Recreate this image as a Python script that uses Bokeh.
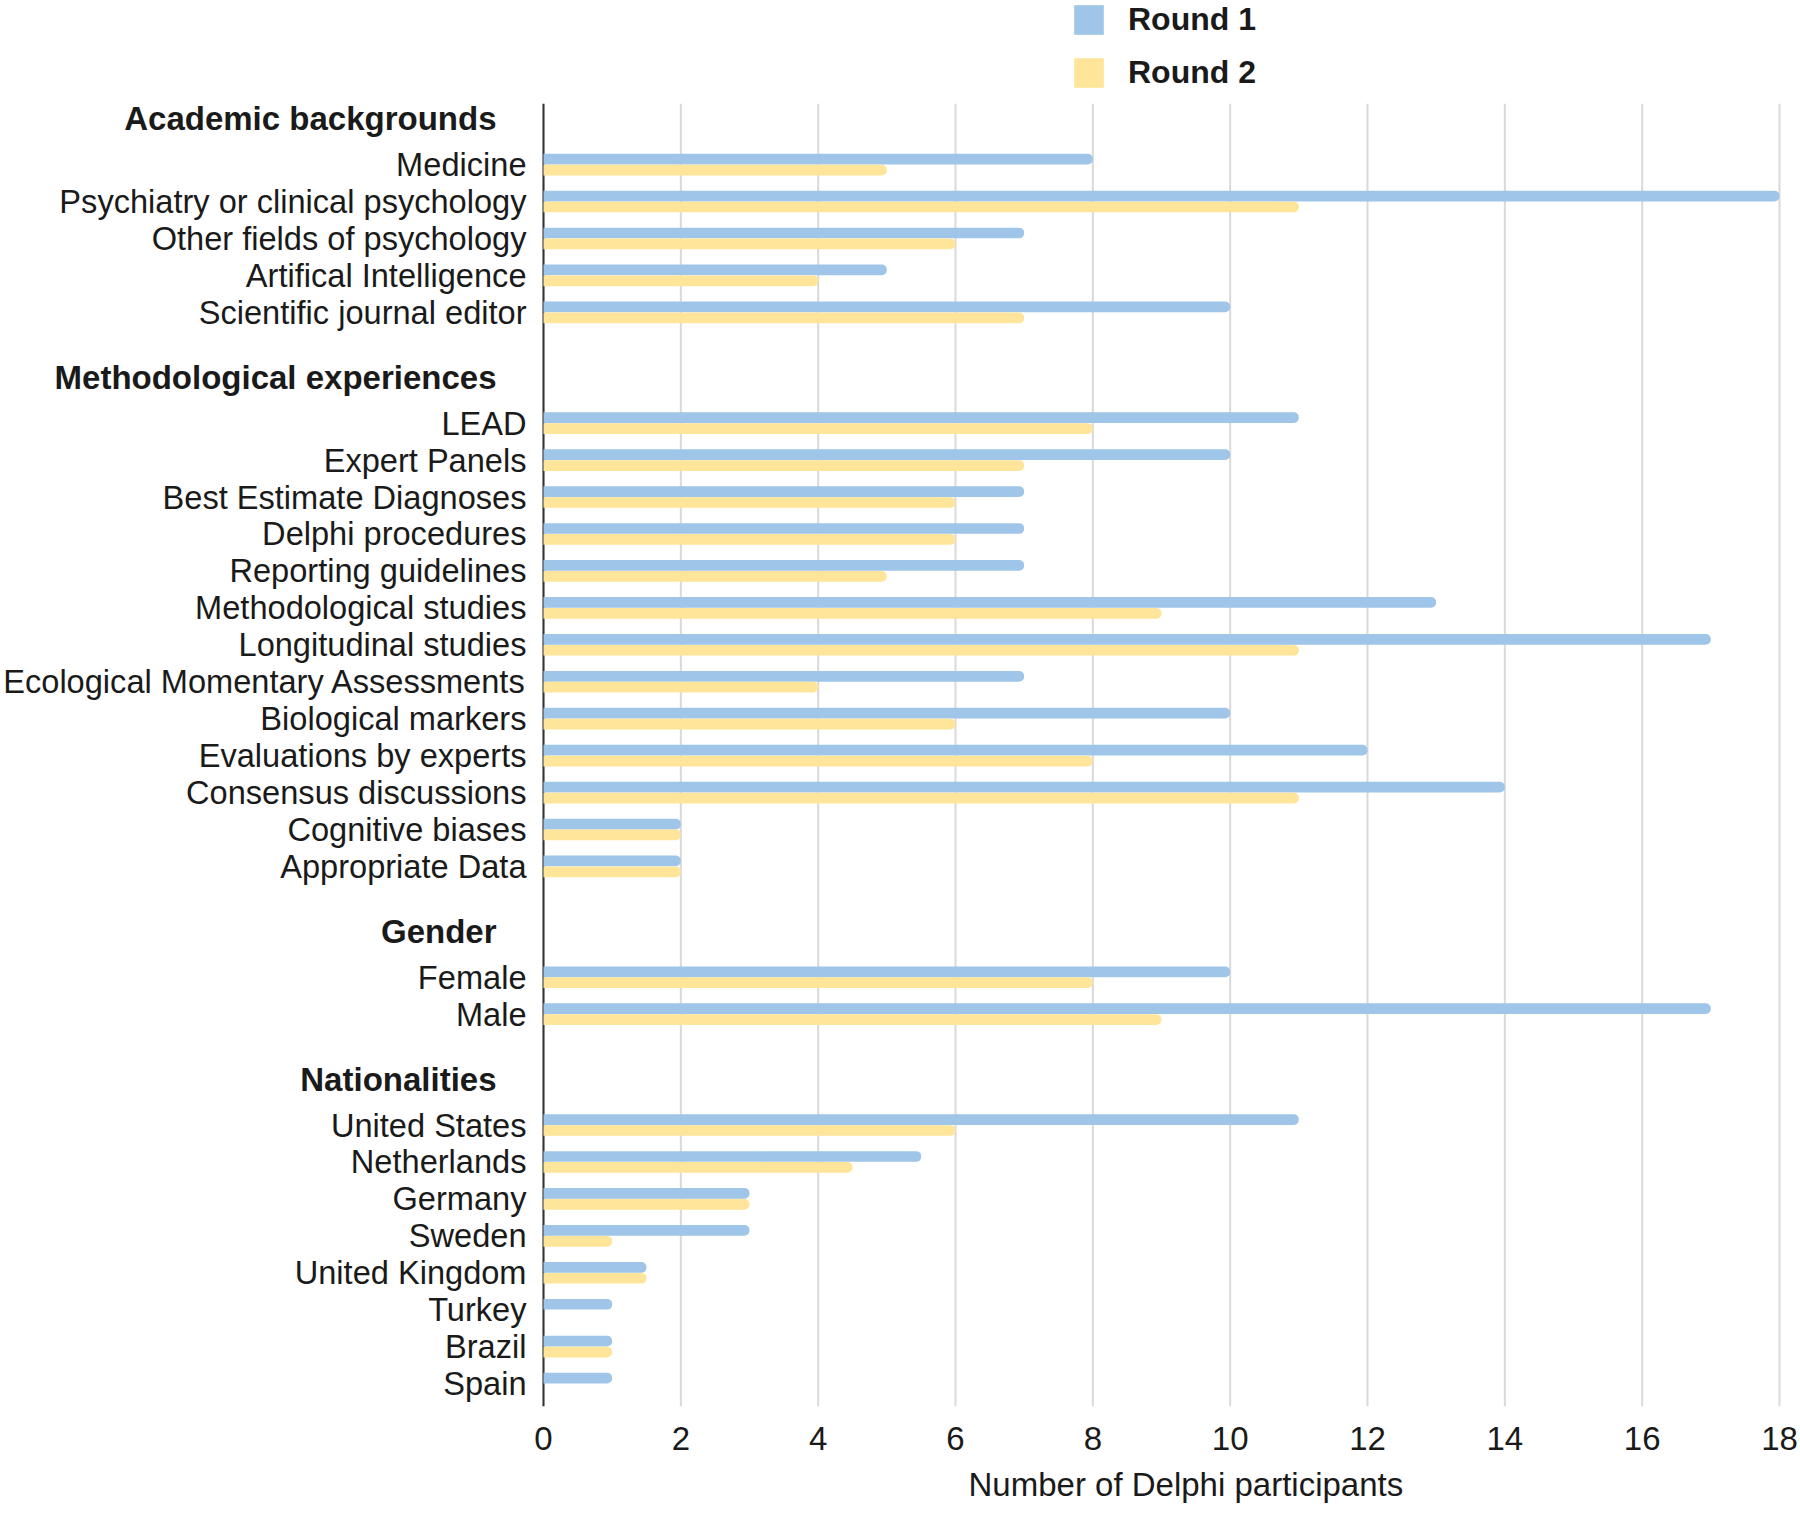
from bokeh.plotting import figure
from bokeh.models import (ColumnDataSource, Range1d, FixedTicker, Legend,
                          LegendItem, Title)
from bokeh.core.properties import value
from bokeh.embed import file_html
from bokeh.resources import INLINE

# Participant characteristics, grouped by section
academic = ["Medicine", "Psychiatry or clinical psychology", "Other fields of psychology",
            "Artifical Intelligence", "Scientific journal editor"]
academic_r1 = [8, 18, 7, 5, 10]
academic_r2 = [5, 11, 6, 4, 7]

methods = ["LEAD", "Expert Panels", "Best Estimate Diagnoses", "Delphi procedures",
           "Reporting guidelines", "Methodological studies", "Longitudinal studies",
           "Ecological Momentary Assessments", "Biological markers",
           "Evaluations by experts", "Consensus discussions", "Cognitive biases",
           "Appropriate Data"]
methods_r1 = [11, 10, 7, 7, 7, 13, 17, 7, 10, 12, 14, 2, 2]
methods_r2 = [8, 7, 6, 6, 5, 9, 11, 4, 6, 8, 11, 2, 2]

gender = ["Female", "Male"]
gender_r1 = [10, 17]
gender_r2 = [8, 9]

nations = ["United States", "Netherlands", "Germany", "Sweden", "United Kingdom",
           "Turkey", "Brazil", "Spain"]
nations_r1 = [11, 5.5, 3, 3, 1.5, 1, 1, 1]
nations_r2 = [6, 4.5, 3, 1, 1.5, 0, 1, 0]

groups = [
    ("Academic backgrounds", academic, academic_r1, academic_r2),
    ("Methodological experiences", methods, methods_r1, methods_r2),
    ("Gender", gender, gender_r1, gender_r2),
    ("Nationalities", nations, nations_r1, nations_r2),
]

x_ticks = list(range(0, 19, 2))
x_max = 18

BLUE = "#9fc5e8"
YELLOW = "#ffe599"
TEXT = "#1a1a1a"
FONT = "Liberation Sans"

# Row positions: consecutive items, two blank rows between sections
names, pos, r1, r2, head_names, head_pos = [], [], [], [], [], []
row = 0
for title, items, v1, v2 in groups:
    head_names.append(title)
    head_pos.append(row - 1.24)
    for name, a, b in zip(items, v1, v2):
        names.append(name)
        pos.append(row)
        r1.append(a)
        r2.append(b)
        row += 1
    row += 2
last = pos[-1]

# plotting area in pixels
W, H = 1800, 1514
PLOT_L, PLOT_R = 543, 1779          # x = 0 and x = 18
BOTTOM = 108                         # room for the x axis below
unit = (PLOT_R - PLOT_L) / x_max
x_lo = -PLOT_L / unit
x_hi = x_max + (W - PLOT_R) / unit
y_bottom = last + 0.62
y_top_axis = -1.65                   # where axis and grid lines start
row_px = 36.94
y_top = y_bottom - (H - BOTTOM) / row_px

BAR_H = 0.29
OFF = 0.148
src = ColumnDataSource(dict(
    name=names, pos=pos, r1=r1, r2=r2,
    y1=[p_ - OFF for p_ in pos], y2=[p_ + OFF for p_ in pos],
))
heads = ColumnDataSource(dict(name=head_names, pos=head_pos))
grid = ColumnDataSource(dict(x=x_ticks))

p = figure(width=W, height=H, output_backend="svg", toolbar_location=None,
           x_range=Range1d(x_lo, x_hi), y_range=Range1d(y_bottom, y_top),
           y_axis_location=None,
           min_border_left=0, min_border_right=0, min_border_top=0,
           min_border_bottom=BOTTOM)
p.outline_line_color = None
p.background_fill_color = "white"
p.border_fill_color = "white"
p.grid.visible = False

# vertical grid lines and the category axis line
p.segment(x0="x", x1="x", y0=y_top_axis, y1=y_bottom, source=grid,
          line_color="#d9d9d9", line_width=2)
p.segment(x0=0, x1=0, y0=y_top_axis, y1=y_bottom, line_color="#333333", line_width=2)

rb1 = p.hbar(y="y1", right="r1", left=0, height=BAR_H, source=src,
             fill_color=BLUE, line_color=None, border_radius=(0, 5, 5, 0))
rb2 = p.hbar(y="y2", right="r2", left=0, height=BAR_H, source=src,
             fill_color=YELLOW, line_color=None, border_radius=(0, 5, 5, 0))

# category names and section headers
p.text(x=0, y="pos", text="name", source=src, x_offset=-17,
       text_align="right", text_baseline="middle", text_font=value(FONT),
       text_font_size="32.6px", text_color=TEXT)
p.text(x=0, y="pos", text="name", source=heads, x_offset=-47,
       text_align="right", text_baseline="middle", text_font=value(FONT),
       text_font_size="33px", text_font_style="bold", text_color=TEXT)

# x axis
p.xaxis.ticker = FixedTicker(ticks=x_ticks)
p.xaxis.axis_line_color = None
p.xaxis.major_tick_line_color = None
p.xaxis.minor_tick_line_color = None
p.xaxis.major_label_text_font = FONT
p.xaxis.major_label_text_font_size = "33px"
p.xaxis.major_label_text_color = TEXT
p.xaxis.major_label_standoff = 14

xtitle = Title(text="Number of Delphi participants", align="left",
               offset=968, standoff=23,
               text_font=FONT, text_font_size="33px", text_font_style="normal",
               text_color=TEXT)
p.add_layout(xtitle, "below")

legend = Legend(items=[LegendItem(label="Round 1", renderers=[rb1]),
                       LegendItem(label="Round 2", renderers=[rb2])],
                location=(1070, H - BOTTOM - 91), orientation="vertical",
                glyph_width=37, glyph_height=37, label_height=31,
                label_standoff=21, spacing=16, padding=0, margin=0,
                border_line_color=None, background_fill_alpha=0,
                label_text_font=FONT, label_text_font_size="32px",
                label_text_font_style="bold", label_text_color=TEXT)
p.add_layout(legend)

open("out.html", "w").write(file_html(p, INLINE))
